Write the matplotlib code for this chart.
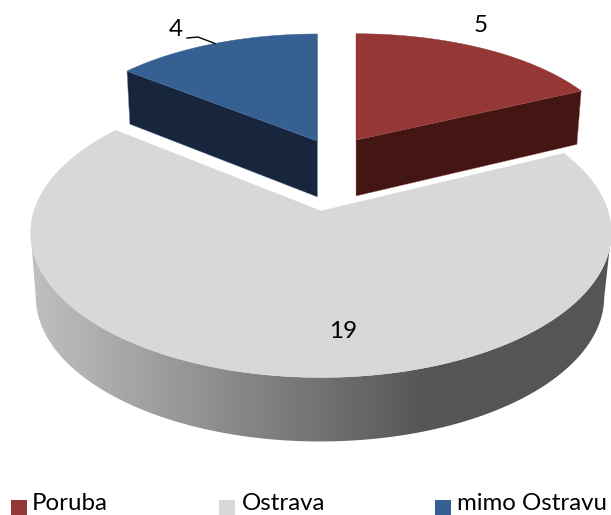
import numpy as np
from matplotlib import pyplot as plt
from matplotlib.colors import LinearSegmentedColormap
from matplotlib.patches import Polygon, Rectangle

labels = ["Poruba", "Ostrava", "mimo Ostravu"]
values = [5, 19, 4]

top_colors = ["#953735", "#d8d8d8", "#376092"]
side_colors = ["#431614", "#555555", "#17263d"]
edge_colors = ["#b97a78", "#d8d8d8", "#7f9cc0"]

# each slice has its own projected circle: cx, cy, a, b, perspective
top_rings = [(356, 140, 263, 119, 0.12), (321, 211, 287, 141.5, 0.15), (317.5, 141, 265, 122, 0.14)]
low_rings = [(356, 196, 258, 125, 0.12), (320, 275, 281, 141.5, 0.15), (317.5, 197, 261, 127, 0.14)]


def ring(r, ang):
	cx, cy, a, b, p = r
	w = 1 + p * np.cos(ang)
	return np.column_stack([cx + a * np.sin(ang) / w, cy - b * np.cos(ang) / w])


fig = plt.figure(figsize=(6.11, 5.15), dpi=100)
ax = fig.add_axes([0, 0, 1, 1])

edges = np.cumsum([0] + values) / sum(values) * 2 * np.pi
starts = edges[:-1]
ends = edges[1:]

# front wall of the big slice, gradient clipped to the wall shape
arc = np.linspace(np.radians(99), np.radians(261), 200)
wall = np.vstack([ring(top_rings[1], arc), ring(low_rings[1], arc[::-1])])
wall_patch = Polygon(wall, closed=True, fc="none", ec="none")
ax.add_patch(wall_patch)
cmap = LinearSegmentedColormap.from_list("wall", ["#c0c0c0", "#555555", "#555555"])
grad = np.linspace(0, 1, 256).reshape(1, -1)
im = ax.imshow(grad, cmap=cmap, extent=(30, 825, 445, 220), aspect="auto")
im.set_clip_path(wall_patch)

# back slices: wall facing the viewer, then the top
for i in [0, 2]:
	corner = ends[i] - starts[i] if i == 0 else starts[i]
	c_top = ring(top_rings[i], np.array([corner]))[0]
	c_low = ring(low_rings[i], np.array([corner]))[0]
	apex_top = top_rings[i][:2]
	apex_low = low_rings[i][:2]
	ax.add_patch(Polygon([apex_top, c_top, c_low, apex_low], closed=True,
		fc=side_colors[i], ec=edge_colors[i], lw=0.3))

# tops
for i in range(3):
	ang = np.linspace(starts[i], ends[i], 200)
	pts = np.vstack([top_rings[i][:2], ring(top_rings[i], ang)])
	ax.add_patch(Polygon(pts, closed=True, fc=top_colors[i], ec=top_colors[i], lw=0.3))

# value labels
ax.text(481, 25, str(values[0]), fontsize=17.5, family="Lato", ha="center", va="center", color="black")
ax.text(343, 332, str(values[1]), fontsize=17.5, family="Lato", ha="center", va="center", color="black")
ax.text(176, 30, str(values[2]), fontsize=17.5, family="Lato", ha="center", va="center", color="black")
ax.plot([187, 198, 215], [38, 37, 43.5], color="black", lw=1)

# legend
box_x = [11, 219, 434.5]
text_x = [32, 241.5, 457]
for i in range(3):
	ax.add_patch(Rectangle((box_x[i], 500), 16, 15, fc=top_colors[i], ec="none"))
	ax.text(text_x[i], 510, labels[i], fontsize=17.3, family="Lato", ha="left", va="baseline", color="black")

ax.set_xlim(0, 611)
ax.set_ylim(515, 0)
ax.axis("off")
fig.savefig("out.png", dpi=100, facecolor="white")
